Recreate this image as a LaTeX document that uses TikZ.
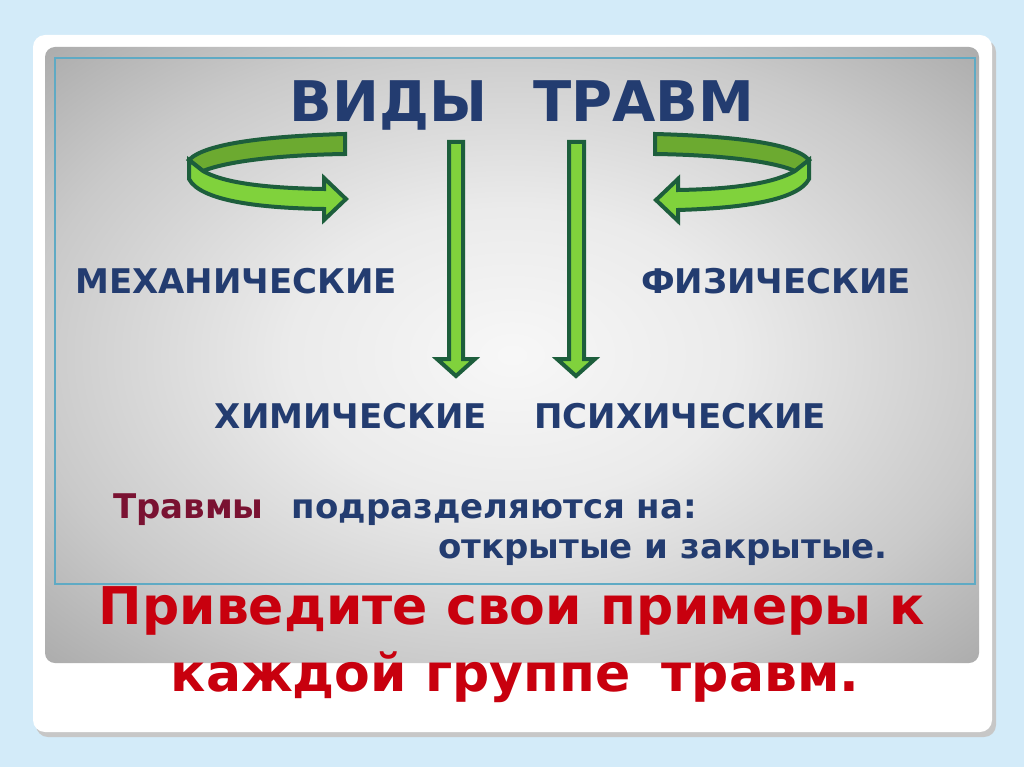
\documentclass[tikz,border=0pt]{standalone}
\usepackage{fontspec}
\setmainfont{DejaVu Sans}
\definecolor{bgblue}{HTML}{D3EBF9}
\definecolor{dblue}{HTML}{233C70}
\definecolor{dred}{HTML}{7A1232}
\definecolor{bred}{HTML}{C8000E}
\definecolor{agreen}{HTML}{1D5E3C}
\definecolor{lgreen}{HTML}{80D23C}
\definecolor{mgreen}{HTML}{6CAA30}
\definecolor{frameblue}{HTML}{5FAAC4}
\pgfdeclareradialshading{panelshade}{\pgfpoint{0bp}{0bp}}{%
  color(0bp)=(gray!6); color(12bp)=(gray!16); color(26bp)=(gray!42);
  color(35bp)=(gray!64); color(50bp)=(gray!72)}
\tikzset{
  arrowline/.style={draw=agreen, line width=4pt, line join=miter},
  frontband/.style={arrowline, fill=lgreen},
  backband/.style={arrowline, fill=mgreen},
  kind/.style={font=\fontsize{34}{38}\bfseries\selectfont, text=dblue, inner sep=0pt},
  title/.style={font=\fontsize{56}{60}\bfseries\selectfont, text=dblue, inner sep=0pt},
  sub/.style={font=\fontsize{34}{38}\bfseries\selectfont, text=dblue, inner sep=0pt},
  task/.style={font=\fontsize{52}{56}\bfseries\selectfont, text=bred, inner sep=0pt},
}
\begin{document}
\begin{tikzpicture}[x=1pt,y=-1pt]
\useasboundingbox (0,0) rectangle (1024,767);
\fill[bgblue] (0,0) rectangle (1024,767);
% card shadow and card
\fill[black!22, rounded corners=12pt] (36,40) rectangle (996,737);
\fill[white, rounded corners=12pt] (33,35) rectangle (992,732);
% gray panel
\shade[shading=panelshade, rounded corners=10pt] (45,47) rectangle (979,663);
\draw[frameblue, line width=1.3pt] (55,58) rectangle (975,584);
% left curl arrow
\draw[backband] (345,134) .. controls (270,136) and (205,143) .. (189,160)
  -- (203,171) .. controls (225,162) and (275,155) .. (345,154) -- cycle;
\draw[frontband] (189,160) -- (189,179) .. controls (200,200) and (255,208) .. (324,209)
  -- (324,220) -- (346,199) -- (324,178) -- (324,189)
  .. controls (260,188) and (222,182) .. (203,171) -- cycle;
% right curl arrow (mirror)
\begin{scope}[xshift=1000pt, xscale=-1]
\draw[backband] (345,134) .. controls (270,136) and (205,143) .. (191,160)
  -- (205,171) .. controls (225,162) and (275,155) .. (345,154) -- cycle;
\draw[frontband] (191,160) -- (191,179) .. controls (202,200) and (255,208) .. (322,210)
  -- (322,221) -- (344,200) -- (322,179) -- (322,190)
  .. controls (260,189) and (224,182) .. (205,171) -- cycle;
\end{scope}
% vertical arrows
\draw[frontband] (449,142) -- (463,142) -- (463,359) -- (475,359) -- (456,376) -- (437,359) -- (449,359) -- cycle;
\draw[frontband] (569,142) -- (584,142) -- (584,359) -- (595,359) -- (576,376) -- (557,359) -- (569,359) -- cycle;
% texts
\node[title] (title) at (522,105) {ВИДЫ\hspace{46pt}ТРАВМ};
\node[kind] (mech) at (236,281) {МЕХАНИЧЕСКИЕ};
\node[kind] (phys) at (776,281) {ФИЗИЧЕСКИЕ};
\node[kind] (chem) at (351,416) {ХИМИЧЕСКИЕ};
\node[kind] (psy) at (680,416) {ПСИХИЧЕСКИЕ};
\node[sub, anchor=west] (div) at (113,510) {\textcolor{dred}{Травмы}\hspace{28pt}подразделяются на:};
\node[sub, anchor=east] (kinds2) at (888,553) {открытые и закрытые.};
\node[task] (task1) at (512,611) {Приведите свои примеры к};
\node[task] (task2) at (515,677) {каждой группе\hspace{0.6em}травм.};
\end{tikzpicture}
\end{document}
